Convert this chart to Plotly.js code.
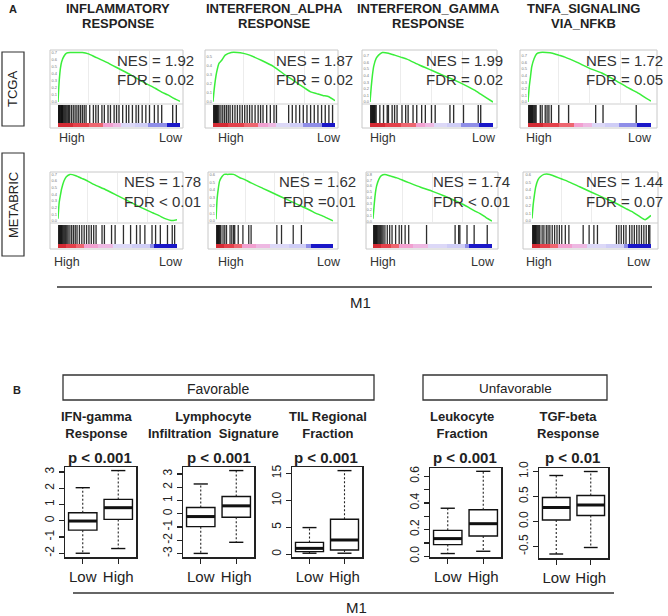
<!DOCTYPE html>
<html>
<head>
<meta charset="utf-8">
<script src="https://cdn.plot.ly/plotly-3.0.1.min.js"></script>
<style>
  html, body { margin: 0; padding: 0; background: #fff; }
  #chart { width: 668px; height: 616px; }
</style>
</head>
<body>
<div id="chart"></div>
<script>
// ---------- panel A : GSEA enrichment plots ----------
var geneSetsLine1 = ['INFLAMMATORY', 'INTERFERON_ALPHA', 'INTERFERON_GAMMA', 'TNFA_SIGNALING'];
var geneSetsLine2 = ['RESPONSE', 'RESPONSE', 'RESPONSE', 'VIA_NFKB'];
var cohorts = ['TCGA', 'METABRIC'];
var nesValues = [1.92, 1.87, 1.99, 1.72, 1.78, 1.62, 1.74, 1.44];
var fdrLabels = ['= 0.02', '= 0.02', '= 0.02', '= 0.05', '< 0.01', '=0.01', '< 0.01', '= 0.07'];

// running enrichment score at these rank fractions
var rankGrid = [0, 0.01, 0.02, 0.03, 0.05, 0.07, 0.1, 0.15, 0.2, 0.25, 0.3, 0.4, 0.5, 0.6, 0.7, 0.8, 0.85, 0.9, 0.95, 1];
var esTcgaInflam = [0, 0.3, 0.48, 0.57, 0.65, 0.69, 0.70, 0.70, 0.70, 0.68, 0.64, 0.56, 0.47, 0.38, 0.28, 0.19, 0.14, 0.1, 0.05, 0.01];
var esTcgaAlpha  = [0, 0.14, 0.25, 0.33, 0.43, 0.46, 0.52, 0.55, 0.55, 0.54, 0.52, 0.46, 0.39, 0.29, 0.2, 0.11, 0.09, 0.07, 0.055, 0.01];
var esTcgaGamma  = [0, 0.23, 0.41, 0.54, 0.66, 0.71, 0.75, 0.74, 0.71, 0.68, 0.65, 0.56, 0.48, 0.4, 0.32, 0.23, 0.18, 0.12, 0.06, 0];
var esTcgaTnfa   = [0, 0.23, 0.38, 0.53, 0.66, 0.73, 0.75, 0.75, 0.74, 0.71, 0.68, 0.6, 0.51, 0.44, 0.34, 0.23, 0.18, 0.13, 0.07, 0.015];
var esMetaInflam = [0.035, 0.28, 0.385, 0.48, 0.6, 0.665, 0.7, 0.68, 0.64, 0.6, 0.55, 0.47, 0.38, 0.29, 0.2, 0.12, 0.08, 0.035, 0.007, 0.02];
var esMetaAlpha  = [0.02, 0.29, 0.42, 0.51, 0.57, 0.6, 0.6, 0.6, 0.56, 0.53, 0.49, 0.42, 0.35, 0.28, 0.21, 0.14, 0.1, 0.07, 0.035, 0];
var esMetaGamma  = [0.04, 0.28, 0.48, 0.6, 0.72, 0.78, 0.8, 0.77, 0.74, 0.7, 0.66, 0.58, 0.51, 0.43, 0.34, 0.24, 0.18, 0.13, 0.06, 0];
var esMetaTnfa   = [0.03, 0.21, 0.33, 0.43, 0.53, 0.57, 0.6, 0.6, 0.57, 0.54, 0.51, 0.44, 0.37, 0.3, 0.23, 0.15, 0.11, 0.06, 0.015, 0.07];

// positions of gene-set members in the ranked list (0 = High, 1 = Low)
var hitsTcgaInflam = [0, 0.006, 0.012, 0.018, 0.024, 0.03, 0.036, 0.042, 0.05, 0.058, 0.066, 0.075, 0.085, 0.095, 0.11, 0.125, 0.14, 0.155, 0.17, 0.185, 0.2, 0.215, 0.23, 0.26, 0.29, 0.31, 0.33, 0.36, 0.38, 0.41, 0.43, 0.46, 0.48, 0.5, 0.53, 0.56, 0.58, 0.61, 0.64, 0.66, 0.69, 0.72, 0.75, 0.79, 0.82, 0.85, 0.94, 0.97];
var hitsTcgaAlpha  = [0, 0.007, 0.014, 0.021, 0.028, 0.035, 0.042, 0.05, 0.065, 0.08, 0.095, 0.11, 0.125, 0.14, 0.16, 0.18, 0.2, 0.22, 0.24, 0.26, 0.28, 0.3, 0.32, 0.345, 0.37, 0.39, 0.41, 0.44, 0.47, 0.5, 0.52, 0.62, 0.65, 0.68, 0.71, 0.74, 0.77, 0.8, 0.83, 0.86, 0.89, 0.92, 0.95, 0.98];
var hitsTcgaGamma  = [0, 0.007, 0.014, 0.021, 0.028, 0.035, 0.042, 0.05, 0.08, 0.11, 0.14, 0.15, 0.18, 0.2, 0.22, 0.26, 0.29, 0.31, 0.35, 0.38, 0.42, 0.45, 0.5, 0.53, 0.65, 0.68, 0.76, 0.88, 0.9];
var hitsTcgaTnfa   = [0, 0.007, 0.014, 0.021, 0.028, 0.035, 0.042, 0.05, 0.058, 0.066, 0.1, 0.115, 0.14, 0.155, 0.17, 0.19, 0.25, 0.33, 0.55, 0.61, 0.88];
var hitsMetaInflam = [0, 0.007, 0.014, 0.021, 0.028, 0.035, 0.042, 0.05, 0.058, 0.066, 0.075, 0.085, 0.1, 0.115, 0.13, 0.145, 0.16, 0.18, 0.2, 0.22, 0.24, 0.26, 0.28, 0.3, 0.32, 0.37, 0.39, 0.45, 0.48, 0.55, 0.61, 0.66, 0.69, 0.73, 0.79, 0.82, 0.86, 0.92, 0.96, 0.98];
var hitsMetaAlpha  = [0, 0.007, 0.014, 0.021, 0.028, 0.035, 0.042, 0.06, 0.075, 0.09, 0.12, 0.135, 0.15, 0.16, 0.19, 0.23, 0.28, 0.3, 0.52, 0.56, 0.66, 0.73];
var hitsMetaGamma  = [0, 0.007, 0.014, 0.021, 0.028, 0.035, 0.042, 0.05, 0.058, 0.066, 0.075, 0.085, 0.1, 0.12, 0.14, 0.16, 0.19, 0.22, 0.24, 0.27, 0.3, 0.45, 0.69, 0.72, 0.73, 0.79, 0.85, 0.96];
var hitsMetaTnfa   = [0, 0.007, 0.014, 0.021, 0.028, 0.035, 0.042, 0.05, 0.058, 0.066, 0.085, 0.1, 0.12, 0.135, 0.15, 0.17, 0.19, 0.21, 0.23, 0.25, 0.28, 0.31, 0.43, 0.48, 0.52, 0.55, 0.71, 0.73, 0.75, 0.77, 0.79, 0.82, 0.84, 0.86, 0.88, 0.9, 0.92, 0.94, 0.96, 0.98, 0.99];

// ranked metric colour strip (bin edges + bin colours)
var tcgaRankEdges = [0, 0.12, 0.25, 0.37, 0.45, 0.52, 0.63, 0.74, 0.89, 1];
var metaRankEdges = [0, 0.07, 0.15, 0.22, 0.34, 0.46, 0.62, 0.77, 0.81, 1];
var rankColors = ['#d42a34', '#e4414b', '#ee6670', '#f2a0d0', '#eeb8e2', '#dcd8f7', '#cfcdf6', '#8f8ee8', '#1a17c8'];

// ---------- panel B : box plots ----------
var groups = ['Low', 'High'];
var signatures = ['IFN-gamma<br>Response', 'Lymphocyte<br>Infiltration  Signature', 'TIL Regional<br>Fraction',
                  'Leukocyte<br>Fraction', 'TGF-beta<br>Response'];
var pLabels = ['p < 0.001', 'p < 0.001', 'p < 0.001', 'p < 0.001', 'p < 0.01'];
// [lower whisker, q1, median, q3, upper whisker]
var ifnLow = [-2.0, -0.58, -0.02, 0.49, 2.03],     ifnHigh = [-1.71, 0.08, 0.8, 1.31, 3.08];
var lymLow = [-3.0, -0.98, -0.22, 0.47, 2.24],     lymHigh = [-2.16, -0.27, 0.59, 1.3, 3.25];
var tilLow = [0.2, 0.5, 1.1, 2.2, 4.95],           tilHigh = [0.2, 0.8, 2.65, 6.5, 15.5];
var leuLow = [0.02, 0.087, 0.132, 0.194, 0.36],    leuHigh = [0.037, 0.152, 0.244, 0.349, 0.637];
var tgfLow = [-0.65, 0.03, 0.28, 0.48, 0.92],      tgfHigh = [-0.52, 0.12, 0.33, 0.52, 1.0];

// ---------- build the figure ----------
var W = 668, H = 616;
function fx(p) { return p / W; }
function fy(p) { return 1 - p / H; }

var traces = [], shapes = [], annotations = [];
var FONT = 'Liberation Sans, Arial, sans-serif';
var layout = {
  width: W, height: H,
  margin: {l: 0, r: 0, t: 0, b: 0},
  paper_bgcolor: '#fff', plot_bgcolor: 'rgba(0,0,0,0)',
  showlegend: false, hovermode: false,
  font: {family: FONT, color: '#222'}
};

var nAxes = 0;
function subplot(x0, x1, y0, y1, xopt, yopt) {
  nAxes++;
  var s = nAxes === 1 ? '' : String(nAxes);
  var xa = {domain: [fx(x0), fx(x1)], anchor: 'y' + s, fixedrange: true, zeroline: false, type: 'linear',
            showgrid: false, showticklabels: false, ticks: ''};
  var ya = {domain: [fy(y1), fy(y0)], anchor: 'x' + s, fixedrange: true, zeroline: false, type: 'linear',
            showgrid: false, showticklabels: false, ticks: ''};
  layout['xaxis' + s] = Object.assign(xa, xopt || {});
  layout['yaxis' + s] = Object.assign(ya, yopt || {});
  return {xaxis: 'x' + s, yaxis: 'y' + s};
}
function text(x, y, t, size, opt) {
  annotations.push(Object.assign({xref: 'paper', yref: 'paper', x: fx(x), y: fy(y), text: t,
    showarrow: false, xanchor: 'center', yanchor: 'middle',
    font: {family: FONT, size: size, color: '#222'}}, opt || {}));
}
function rect(x0, y0, x1, y1, color, width) {
  shapes.push({type: 'rect', xref: 'paper', yref: 'paper', x0: fx(x0), x1: fx(x1), y0: fy(y0), y1: fy(y1),
    line: {color: color, width: width}, fillcolor: 'rgba(0,0,0,0)'});
}
function hline(x0, x1, y, color, width) {
  shapes.push({type: 'line', xref: 'paper', yref: 'paper', x0: fx(x0), x1: fx(x1), y0: fy(y), y1: fy(y),
    line: {color: color, width: width}});
}

var esCurves = [esTcgaInflam, esTcgaAlpha, esTcgaGamma, esTcgaTnfa, esMetaInflam, esMetaAlpha, esMetaGamma, esMetaTnfa];
var hitSets = [hitsTcgaInflam, hitsTcgaAlpha, hitsTcgaGamma, hitsTcgaTnfa, hitsMetaInflam, hitsMetaAlpha, hitsMetaGamma, hitsMetaTnfa];

// geometry (pixels)
var innerX = [[58, 180], [213, 335], [370, 493], [528, 651], [58, 177], [216, 333], [373, 492], [532, 651]];
var outerX = [[50, 183], [205, 338], [362, 497], [520, 657], [50, 183], [208, 338], [366, 498], [523, 658]];
var rowY = [{curve: [51, 103], bars: [105, 123], strip: [123, 127], nes: 61, fdr: 79, hl: 138},
            {curve: [173, 222], bars: [225, 244], strip: [244, 248], nes: 182, fdr: 201, hl: 262}];
var nesRight = [196, 355, 505, 665, 203, 358, 512, 665];
var highLeft = [57, 216, 368, 524, 52, 216, 368, 524];
var lowRight = [185, 343, 498, 654, 185, 343, 497, 653];

var colorscale = rankColors.map(function (col, k) { return [k / (rankColors.length - 1), col]; });

for (var i = 0; i < 8; i++) {
  var row = rowY[Math.floor(i / 4)];
  var ix = innerX[i], ox = outerX[i];
  var esVals = esCurves[i];
  var yTop = Math.max.apply(null, esVals) * 1.03;

  var pa = subplot(ix[0], ix[1], row.curve[0], row.curve[1],
    {range: [0, 1], showgrid: true, tickvals: [0.25, 0.5, 0.75], gridcolor: '#ececec'},
    {range: [-0.015, yTop], autorange: false, dtick: 0.1, tick0: 0, showticklabels: true,
     tickfont: {size: 4, color: '#777'}, tickformat: '.1f'});
  traces.push({type: 'scatter', mode: 'lines', x: rankGrid, y: esVals, xaxis: pa.xaxis, yaxis: pa.yaxis,
    line: {color: '#3aee3a', width: 1.5, shape: 'spline', smoothing: 0.5}});

  var pb = subplot(ix[0], ix[1], row.bars[0], row.bars[1], {range: [0, 1]}, {range: [0, 1]});
  traces.push({type: 'bar', x: hitSets[i], y: hitSets[i].map(function () { return 1; }),
    width: 0.011, xaxis: pb.xaxis, yaxis: pb.yaxis,
    marker: {color: 'rgba(0,0,0,0.82)', line: {width: 0}}});

  var pc = subplot(ix[0], ix[1], row.strip[0], row.strip[1], {range: [0, 1]}, {range: [0, 1]});
  var edges = i < 4 ? tcgaRankEdges : metaRankEdges;
  traces.push({type: 'heatmap', x: edges, y: [0, 1], z: [rankColors.map(function (_, k) { return k; })],
    zmin: 0, zmax: rankColors.length - 1, colorscale: colorscale, showscale: false,
    xaxis: pc.xaxis, yaxis: pc.yaxis});

  rect(ox[0], row.curve[0] - 1, ox[1], row.strip[1] + 1, '#c8c8c8', 1);
  hline(ox[0], ox[1], row.curve[1] + 1, '#cfcfcf', 1);

  text(nesRight[i], row.nes, 'NES = ' + nesValues[i].toFixed(2), 15, {xanchor: 'right', font: {family: FONT, size: 15, color: '#333'}});
  text(nesRight[i], row.fdr, 'FDR ' + fdrLabels[i], 15, {xanchor: 'right', font: {family: FONT, size: 15, color: '#333'}});
  text(highLeft[i], row.hl, 'High', 12.5, {xanchor: 'left', font: {family: FONT, size: 12.5, color: '#333'}});
  text(lowRight[i], row.hl, 'Low', 12.5, {xanchor: 'right', font: {family: FONT, size: 12.5, color: '#333'}});
}

var titleX = [118, 274, 428, 583];
geneSetsLine1.forEach(function (g, k) {
  text(titleX[k], 8, '<b>' + g + '</b>', 13);
  text(titleX[k], 23, '<b>' + geneSetsLine2[k] + '</b>', 13);
});
text(13, 9, '<b>A</b>', 11);

rect(2, 52, 24, 126, '#333', 1.2);
rect(2, 153, 24, 256, '#333', 1.2);
text(13, 89, cohorts[0], 13, {textangle: -90});
text(13, 205, cohorts[1], 13, {textangle: -90});
hline(57, 652, 287, '#333', 1.5);
text(360, 302, 'M1', 15);

// ---------- panel B ----------
text(17, 390, '<b>B</b>', 11);
rect(63, 375, 374, 400, '#333', 1.3);
text(218, 389, 'Favorable', 14);
rect(423, 375, 607, 400, '#333', 1.3);
text(515, 389, 'Unfavorable', 13.5);

var boxStats = [[ifnLow, ifnHigh], [lymLow, lymHigh], [tilLow, tilHigh], [leuLow, leuHigh], [tgfLow, tgfHigh]];
var boxFrames = [[65, 136, 467, 557], [183, 254, 467, 557], [292, 362, 467, 557], [430, 501, 468, 557], [539, 608, 468, 558]];
var yRanges = [[-2.23, 3.3], [-3.27, 3.52], [-0.5, 16.17], [-0.006, 0.662], [-0.73, 1.07]];
var yTicks = [[-2, -1, 0, 1, 2, 3], [-3, -2, -1, 0, 1, 2, 3], [0, 5, 10, 15],
              [0, 0.1, 0.2, 0.3, 0.4, 0.5, 0.6], [-0.5, 0, 0.5, 1]];
var yTickText = [['-2', '-1', '0', '1', '2', '3'], ['-3', '-2', '-1', '0', '1', '2', '3'], ['0', '5', '10', '15'],
                 ['0.0', '', '0.2', '', '0.4', '', '0.6'], ['-0.5', '0.0', '0.5', '1.0']];
var titleCx = [97, 213, 328, 462, 568];
var pCx = [100, 219, 326, 465, 572];

boxStats.forEach(function (st, k) {
  var f = boxFrames[k];
  var ax = subplot(f[0], f[1], f[2], f[3],
    {range: [0.5, 2.5], tickvals: [1, 2], ticktext: groups, showticklabels: true, ticks: 'outside',
     ticklen: 5, tickwidth: 1.3, tickcolor: '#222', tickfont: {size: 15, color: '#222'},
     showline: true, mirror: true, linecolor: '#222', linewidth: 1.5},
    {range: yRanges[k], tickvals: yTicks[k], ticktext: yTickText[k], showticklabels: true, ticks: 'outside',
     ticklen: 5, tickwidth: 1.3, tickcolor: '#222', tickangle: -90, tickfont: {size: 12, color: '#222'},
     showline: true, mirror: true, linecolor: '#222', linewidth: 1.5});

  traces.push({type: 'box', x: [1, 2], xaxis: ax.xaxis, yaxis: ax.yaxis,
    q1: st.map(function (s) { return s[1]; }),
    median: st.map(function (s) { return s[2]; }),
    q3: st.map(function (s) { return s[3]; }),
    lowerfence: st.map(function (s) { return s[1]; }),
    upperfence: st.map(function (s) { return s[3]; }),
    width: 0.8, whiskerwidth: 0, boxpoints: false,
    fillcolor: 'rgba(255,255,255,0)', line: {color: '#111', width: 1.4}});

  st.forEach(function (s, g) {
    var xc = g + 1;
    traces.push({type: 'scatter', mode: 'lines', xaxis: ax.xaxis, yaxis: ax.yaxis,
      x: [xc, xc, null, xc, xc], y: [s[3], s[4], null, s[1], s[0]],
      line: {color: '#222', width: 1.1, dash: '2px,2px'}});
    traces.push({type: 'scatter', mode: 'lines', xaxis: ax.xaxis, yaxis: ax.yaxis,
      x: [xc - 0.2, xc + 0.2, null, xc - 0.2, xc + 0.2], y: [s[4], s[4], null, s[0], s[0]],
      line: {color: '#111', width: 1.4}});
    traces.push({type: 'scatter', mode: 'lines', xaxis: ax.xaxis, yaxis: ax.yaxis,
      x: [xc - 0.4, xc + 0.4], y: [s[2], s[2]], line: {color: '#111', width: 3}});
  });

  text(titleCx[k], 424.5, '<b>' + signatures[k] + '</b>', 13);
  text(pCx[k], 457, '<b>' + pLabels[k] + '</b>', 15);
});

hline(73, 614, 593, '#333', 1.5);
text(356, 607, 'M1', 15);

layout.shapes = shapes;
layout.annotations = annotations;

Plotly.newPlot('chart', traces, layout, {staticPlot: true, displayModeBar: false});
</script>
</body>
</html>
